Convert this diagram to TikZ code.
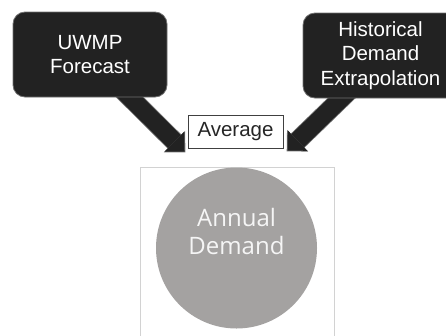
\documentclass[tikz,border=0pt]{standalone}
\usepackage{fontspec}
\setmainfont{Liberation Sans}
\newfontfamily\discfont{Open Sans}
\usetikzlibrary{arrows.meta,backgrounds}
\definecolor{boxblack}{HTML}{222222}
\definecolor{edgegray}{HTML}{707070}
\definecolor{discgray}{HTML}{A4A2A1}
\definecolor{framegray}{HTML}{D2D2D2}
\tikzset{
  darkbox/.style={draw=edgegray, line width=0.8pt, fill=boxblack, rounded corners=12pt,
    minimum width=154pt, minimum height=85pt, inner sep=0pt,
    text=white, align=center, font=\fontsize{20.5}{24.5}\selectfont},
  avgbox/.style={draw=black!75, line width=1pt, fill=white, minimum width=95pt, minimum height=33pt,
    inner sep=0pt, text=black!85, font=\fontsize{20.5}{24.5}\selectfont},
  disc/.style={circle, fill=discgray, minimum size=161pt, inner sep=0pt},
  disctext/.style={text=gray!8, align=center, inner sep=0pt, font=\discfont\fontsize{24}{28}\selectfont},
  photoframe/.style={draw=framegray, line width=0.8pt, minimum width=194pt, minimum height=173pt, inner sep=0pt},
  bigarrow/.style={draw=boxblack, line width=18pt, -{Triangle[angle=90:20pt, line width=0pt]},
    preaction={draw=edgegray, line width=19.6pt, shorten >=-1.1pt, -{Triangle[angle=90:21.4pt, line width=0pt]}}}
}
\begin{document}
\begin{tikzpicture}[x=1pt,y=-1pt]
\useasboundingbox (0,0) rectangle (446,335);
\node[darkbox] (uwmp) at (90,54.5) {UWMP\\Forecast};
\node[darkbox, minimum width=155pt] (hist) at (380.5,55.5) {Historical\\Demand\\Extrapolation};
\node[avgbox] (avg) at (235.5,131.5) {Average};
\node[photoframe] (photo) at (237,253.5) {};
\node[disc] (annual) at (236.5,248) {};
\node[disctext] (annualtext) at ([yshift=17pt]annual.center) {Annual\\Demand};
\coordinate (ltip) at ([shift={(-3,3)}]avg.south west);
\coordinate (rtip) at ([shift={(4,2)}]avg.south east);
\begin{scope}[on background layer]
\draw[bigarrow] ([shift={(29,32)}]uwmp.center) -- (ltip);
\draw[bigarrow] ([shift={(-28.5,32.5)}]hist.center) -- (rtip);
\end{scope}
\end{tikzpicture}
\end{document}
